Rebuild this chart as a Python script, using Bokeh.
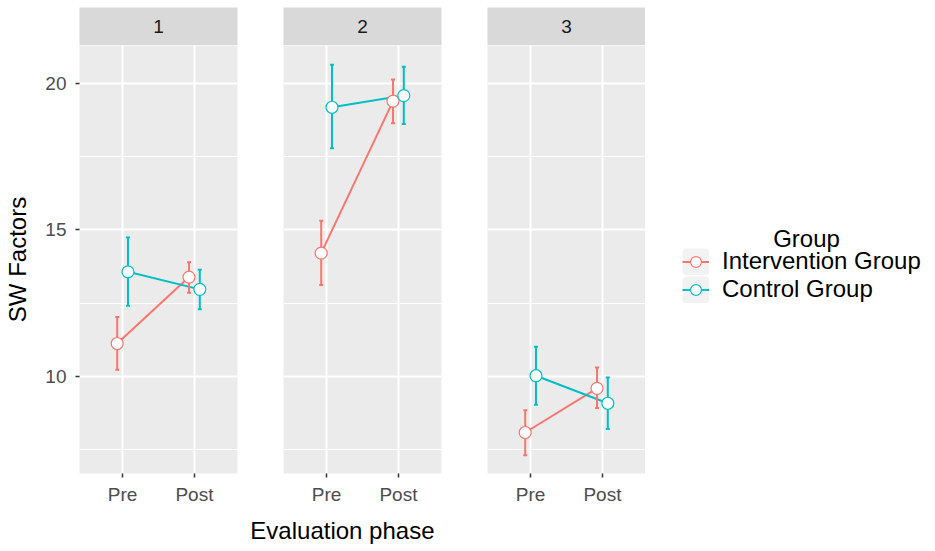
from bokeh.plotting import figure
from bokeh.layouts import row, column
from bokeh.models import (ColumnDataSource, Range1d, FactorRange, FixedTicker, Legend,
                          LegendItem, Label, Title)
from bokeh.transform import dodge
from bokeh.core.properties import value
from bokeh.embed import file_html
from bokeh.resources import INLINE

# ---------------- data ----------------
facets = [1, 2, 3]
phases = ["Pre", "Post"]
groups = ["Intervention Group", "Control Group"]
colors = ["#F8766D", "#00BFC4"]

int_mean = [[11.12, 13.39], [14.21, 19.40], [8.08, 9.59]]
int_low = [[10.22, 12.85], [13.12, 18.64], [7.30, 8.92]]
int_high = [[12.03, 13.90], [15.31, 20.14], [8.84, 10.30]]

ctl_mean = [[13.57, 12.97], [19.19, 19.59], [10.02, 9.08]]
ctl_low = [[12.41, 12.29], [17.79, 18.62], [9.03, 8.20]]
ctl_high = [[14.74, 13.64], [20.64, 20.57], [11.01, 9.96]]

y_ticks = [10, 15, 20]
y_minor = [7.5, 12.5, 17.5]

FONT = "Liberation Sans"
PANEL_BG = "#EBEBEB"
STRIP_BG = "#D9D9D9"

yr = Range1d(6.68, 21.3)
dodge_off = [-0.075, 0.075]

FRAME_W = 158
FRAME_H = 428
STRIP_TOP = 7
STRIP_H = 38
BOTTOM = 77
borders = [(79, 5), (41, 23), (23, 0)]

cols = []
srcs3 = None
for fi, facet in enumerate(facets):
    ml, mr = borders[fi]
    tw = ml + FRAME_W + mr

    # strip
    s = figure(width=tw, height=STRIP_TOP + STRIP_H, x_range=Range1d(0, 1), y_range=Range1d(0, 1),
               toolbar_location=None, output_backend="svg",
               x_axis_location=None, y_axis_location=None, min_border=0,
               min_border_left=ml, min_border_right=mr, min_border_top=STRIP_TOP)
    s.background_fill_color = STRIP_BG
    s.border_fill_color = "white"
    s.outline_line_color = None
    s.grid.visible = False
    s.text(x=[0.5], y=[0.5], text=[str(facet)], text_align="center", text_baseline="middle",
           text_font=value(FONT), text_font_size="19px", text_color="#1A1A1A")

    xr = FactorRange(factors=phases, range_padding=0.1, range_padding_units="absolute")
    p = figure(width=tw, height=FRAME_H + BOTTOM, x_range=xr, y_range=yr,
               toolbar_location=None, output_backend="svg", min_border=0,
               min_border_top=0, min_border_left=ml, min_border_right=mr,
               min_border_bottom=BOTTOM)
    p.background_fill_color = PANEL_BG
    p.border_fill_color = "white"
    p.outline_line_color = None

    p.yaxis.ticker = FixedTicker(ticks=y_ticks, minor_ticks=y_minor)
    p.ygrid.ticker = FixedTicker(ticks=y_ticks, minor_ticks=y_minor)
    for ax in (p.xaxis[0], p.yaxis[0]):
        ax.axis_line_color = None
        ax.major_tick_line_color = "#333333"
        ax.major_tick_line_width = 1.5
        ax.major_tick_out = 4
        ax.major_tick_in = 0
        ax.minor_tick_line_color = None
        ax.major_label_text_font = FONT
        ax.major_label_text_font_size = "19px"
        ax.major_label_text_color = "#4D4D4D"
    p.xaxis.major_label_standoff = 6
    p.yaxis.major_label_standoff = 9
    if fi == 0:
        p.yaxis.axis_label = "SW Factors"
        p.yaxis.axis_label_text_font = FONT
        p.yaxis.axis_label_text_font_size = "24px"
        p.yaxis.axis_label_text_font_style = "normal"
        p.yaxis.axis_label_text_color = "#000000"
        p.yaxis.axis_label_standoff = 11
    else:
        p.yaxis.visible = False

    p.xgrid.grid_line_color = "white"
    p.xgrid.grid_line_width = 2
    p.ygrid.grid_line_color = "white"
    p.ygrid.grid_line_width = 2
    p.ygrid.minor_grid_line_color = "white"
    p.ygrid.minor_grid_line_width = 1

    means = [int_mean[fi], ctl_mean[fi]]
    lows = [int_low[fi], ctl_low[fi]]
    highs = [int_high[fi], ctl_high[fi]]
    srcs = [ColumnDataSource(dict(phase=phases, mean=means[g], low=lows[g], high=highs[g]))
            for g in range(2)]
    if fi == 2:
        srcs3 = srcs

    for g in range(2):
        p.line(x=dodge("phase", dodge_off[g], range=xr), y="mean", source=srcs[g],
               line_color=colors[g], line_width=2)
    for g in range(2):
        xx = dodge("phase", dodge_off[g], range=xr)
        p.segment(x0=xx, y0="low", x1=xx, y1="high", source=srcs[g],
                  line_color=colors[g], line_width=2)
        p.scatter(x=xx, y="low", source=srcs[g], marker="dash", size=4,
                  line_color=colors[g], line_width=2)
        p.scatter(x=xx, y="high", source=srcs[g], marker="dash", size=4,
                  line_color=colors[g], line_width=2)
    for g in range(2):
        p.scatter(x=dodge("phase", dodge_off[g], range=xr), y="mean", source=srcs[g],
                  marker="circle", size=12, fill_color="white",
                  line_color=colors[g], line_width=1.2)

    if fi == 1:
        t = Title(text="Evaluation phase", align="right", offset=7, standoff=14,
                  text_font=FONT, text_font_size="24px", text_font_style="normal",
                  text_color="#000000")
        p.add_layout(t, "below")

    cols.append(column(s, p))

# ---------------- legend panel ----------------
LEG_W = 288
LEG_H = STRIP_TOP + STRIP_H + FRAME_H + BOTTOM
xr4 = FactorRange(factors=phases)
lg = figure(width=LEG_W, height=LEG_H, x_range=xr4, y_range=Range1d(6.68, 21.3),
            toolbar_location=None, output_backend="svg", min_border=0,
            x_axis_location=None, y_axis_location=None)
lg.background_fill_color = "white"
lg.border_fill_color = "white"
lg.outline_line_color = None
lg.grid.visible = False
items = []
for g in range(2):
    kr = lg.rect(x="phase", y="mean", width=0.5, height=1, source=srcs3[g],
                 fill_color="#F2F2F2", line_color="#F2F2F2", line_width=5.5)
    lr = lg.line(x="phase", y="mean", source=srcs3[g], line_color=colors[g], line_width=2)
    pr = lg.scatter(x="phase", y="mean", source=srcs3[g], marker="circle", size=12,
                    fill_color="white", line_color=colors[g], line_width=1.2)
    for r in (kr, lr, pr):
        r.visible = False
    items.append(LegendItem(label=groups[g], renderers=[kr, lr, pr]))
leg = Legend(items=items, location=(37, LEG_H - 303), glyph_width=27, glyph_height=27,
             label_standoff=13, spacing=0, padding=0, margin=0,
             label_text_font=FONT, label_text_font_size="24px",
             label_text_color="#000000", border_line_color=None,
             background_fill_alpha=0)
lg.add_layout(leg, "center")
lab = Label(x=161, y=LEG_H - 238, x_units="screen", y_units="screen", text="Group",
            text_align="center", text_baseline="alphabetic",
            text_font=FONT, text_font_size="24px", text_color="#000000")
lg.add_layout(lab)

layout = row(*cols, lg)
open("out.html", "w").write(file_html(layout, INLINE))
